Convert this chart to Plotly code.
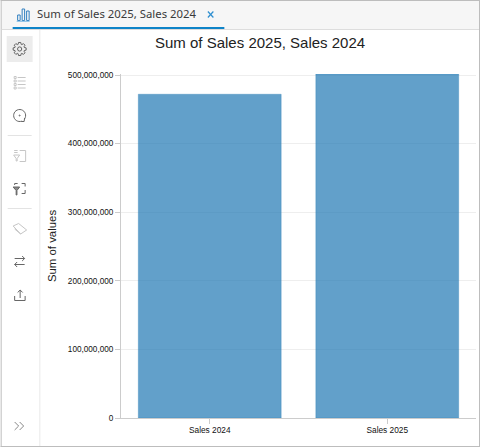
import math
import plotly.graph_objects as go

categories = ["Sales 2024", "Sales 2025"]
values = [472000000, 501500000]
tick_values = [0, 100000000, 200000000, 300000000, 400000000, 500000000]
tick_labels = ["0", "100,000,000", "200,000,000", "300,000,000", "400,000,000", "500,000,000"]
chart_title = "Sum of Sales 2025, Sales 2024"
y_title = "Sum of values"
tab_title = "Sum of Sales 2025, Sales 2024"

W, H = 480, 448
L, R, T, B = 120.5, 476, 74, 418
FONT = "Liberation Sans, Arial, sans-serif"


def fx(x):
    return (x - L) / (R - L)


def fy(y):
    return (B - y) / (B - T)


def rect(x0, y0, x1, y1, fill=None, line=None, lw=1, layer="below"):
    return dict(type="rect", xref="paper", yref="paper", x0=fx(x0), x1=fx(x1), y0=fy(y0), y1=fy(y1),
                fillcolor=fill or "rgba(0,0,0,0)", line=dict(color=line or "rgba(0,0,0,0)", width=lw if line else 0), layer=layer)


def path(points, color="#777777", lw=1, close=False, fill=None):
    d = "M" + " L".join(f"{fx(x):.5f},{fy(y):.5f}" for x, y in points) + (" Z" if close else "")
    return dict(type="path", xref="paper", yref="paper", path=d, line=dict(color=color, width=lw),
                fillcolor=fill or "rgba(0,0,0,0)", layer="above")


def circle(cx, cy, r, color="#666666", lw=1, fill=None):
    return dict(type="circle", xref="paper", yref="paper", x0=fx(cx - r), x1=fx(cx + r), y0=fy(cy + r), y1=fy(cy - r),
                line=dict(color=color, width=lw), fillcolor=fill or "rgba(0,0,0,0)", layer="above")


def gear(cx, cy, r_out, r_in, teeth=8):
    pts = []
    step = 2 * math.pi / teeth
    for i in range(teeth):
        a = i * step
        for da, r in ((-0.32, r_in), (-0.17, r_out), (0.17, r_out), (0.32, r_in)):
            pts.append((cx + r * math.cos(a + da), cy + r * math.sin(a + da)))
    return path(pts, "#555555", 0.9, close=True)


def arc(cx, cy, r, a0, a1, color="#666666", n=24):
    pts = []
    for i in range(n + 1):
        a = math.radians(a0 + (a1 - a0) * i / n)
        pts.append((cx + r * math.cos(a), cy + r * math.sin(a)))
    return path(pts, color, 1)


GREY = "#666666"
PALE = "#c6c6c6"
shapes = [
    rect(0, 0, W, H, fill="#ffffff"),
    rect(1, 1, 479, 29, fill="#f6f6f6"),
    path([(1, 29.5), (479, 29.5)], "#dddddd"),
    path([(39.2, 30), (39.2, 446)], "#e9e9e9"),
    rect(0, 0, 1, 447, fill="#bdbdbd"),
    rect(0, 0, 480, 1, fill="#bdbdbd"),
    rect(479, 0, 480, 447, fill="#bdbdbd"),
    rect(0, 446, 480, 447, fill="#bdbdbd"),
    rect(12, 27, 224, 29, fill="#0f84c8"),
    rect(6, 36, 32, 62, fill="#ececec"),
    # tab chart icon
    path([(16, 21.3), (29, 21.3)], "#7fbce6"),
    rect(17, 15, 19.5, 20.5, line="#2f7fc0"),
    rect(21.5, 9, 24, 20.5, line="#2f7fc0"),
    rect(26, 11, 28.5, 20.5, line="#2f7fc0"),
    # tab close
    path([(207.5, 11.5), (213, 17.5)], "#2f8fd0", 1.2),
    path([(213, 11.5), (207.5, 17.5)], "#2f8fd0", 1.2),
    # gear
    gear(19, 49, 6.6, 4.9),
    circle(19, 49, 2.1, "#555555", 0.9),
    # list icon
    path([(17, 77.5), (25, 77.5)], PALE),
    path([(17, 81), (25, 81)], PALE),
    path([(17, 84.5), (25, 84.5)], PALE),
    path([(17, 88), (25, 88)], PALE),
    rect(13.5, 76.5, 15.5, 78.5, line=PALE),
    rect(13.5, 80, 15.5, 82, line=PALE),
    rect(13.5, 83.5, 15.5, 85.5, line=PALE),
    rect(13.5, 87, 15.5, 89, line=PALE),
    # refresh
    arc(19, 115.5, 6, 70, 395),
    circle(19, 115.5, 0.5, GREY, 1),
    path([(24, 118), (23.5, 121.5), (20.5, 121.5)], GREY),
    path([(7, 135.5), (31, 135.5)], "#e3e3e3"),
    # filter box 1 (disabled)
    path([(19, 150.5), (25, 150.5), (25, 161.5), (19, 161.5)], PALE),
    path([(13, 155), (19, 155), (16.5, 158.5), (16.5, 161), (15.5, 161), (15.5, 158.5), (13, 155)], PALE),
    path([(13.5, 150.5), (17, 150.5)], PALE),
    path([(13.5, 152.5), (17, 152.5)], PALE),
    # filter box 2
    path([(14, 185), (14, 183.5), (17, 183.5)], GREY),
    path([(21, 183.5), (24.5, 183.5), (24.5, 186.5)], GREY),
    path([(24.5, 190), (24.5, 193.5), (21, 193.5)], GREY),
    path([(12.5, 187), (19, 187), (16.3, 190.5), (16.3, 195), (15.5, 195), (15.5, 190.5), (12.5, 187)], GREY, fill="#888888"),
    path([(7, 208.5), (31, 208.5)], "#e3e3e3"),
    # eraser
    path([(12.5, 226), (18, 223.5), (26, 230), (20, 234), (12.5, 226)], PALE),
    path([(14, 229), (20, 234)], PALE),
    # swap
    path([(14, 258.5), (24, 258.5), (21.5, 256)], GREY),
    path([(24, 258.5), (21.5, 261)], GREY),
    path([(24, 264.5), (14, 264.5), (16.5, 262)], GREY),
    path([(14, 264.5), (16.5, 267)], GREY),
    # export
    path([(14, 296), (14, 300.5), (24.5, 300.5), (24.5, 296)], GREY),
    path([(19.5, 298), (19.5, 290), (17, 292.5)], GREY),
    path([(19.5, 290), (22, 292.5)], GREY),
    # expand chevrons
    path([(14, 422), (18, 426), (14, 430)], "#888888"),
    path([(19, 422), (23, 426), (19, 430)], "#888888"),
]

annotations = [
    dict(text=chart_title, xref="paper", yref="paper", x=fx(260), y=fy(42), showarrow=False,
         font=dict(family=FONT, size=15, color="#222222"), xanchor="center", yanchor="middle"),
    dict(text=tab_title, xref="paper", yref="paper", x=fx(34), y=fy(14), showarrow=False,
         font=dict(family="Noto Sans", size=11.35, color="#3a3a3a"), xanchor="left", yanchor="middle", xshift=0),
    dict(text=y_title, xref="paper", yref="paper", x=fx(51.5), y=fy(246), showarrow=False, textangle=-90,
         font=dict(family=FONT, size=11.4, color="#222222"), xanchor="center", yanchor="middle"),
]

fig = go.Figure(go.Bar(
    x=categories,
    y=values,
    width=0.805,
    marker=dict(color="rgba(31,119,180,0.7)", line=dict(color="rgba(31,119,180,0.3)", width=1)),
    hoverinfo="skip",
))

fig.update_layout(
    width=W,
    height=H,
    autosize=False,
    margin=dict(l=L, r=W - R, t=T, b=H - B, pad=0),
    paper_bgcolor="#ffffff",
    plot_bgcolor="rgba(0,0,0,0)",
    showlegend=False,
    shapes=shapes,
    annotations=annotations,
    xaxis=dict(
        type="category",
        showgrid=False,
        showline=True,
        linecolor="#cccccc",
        linewidth=1,
        ticks="outside",
        ticklen=5,
        tickcolor="#cccccc",
        ticklabelstandoff=-1,
        tickfont=dict(family=FONT, size=8.3, color="#111111"),
        zeroline=False,
    ),
    yaxis=dict(
        range=[0, values[1]],
        tickmode="array",
        tickvals=tick_values,
        ticktext=tick_labels,
        showgrid=True,
        gridcolor="#eeeeee",
        gridwidth=1,
        showline=True,
        linecolor="#cccccc",
        linewidth=1,
        ticks="outside",
        ticklen=5,
        tickcolor="#cccccc",
        tickfont=dict(family=FONT, size=8.2, color="#111111"),
        zeroline=False,
    ),
)

fig.write_html("out.html", config=dict(displayModeBar=False),
               post_script="document.body.style.margin='0';document.documentElement.style.overflow='hidden';")
